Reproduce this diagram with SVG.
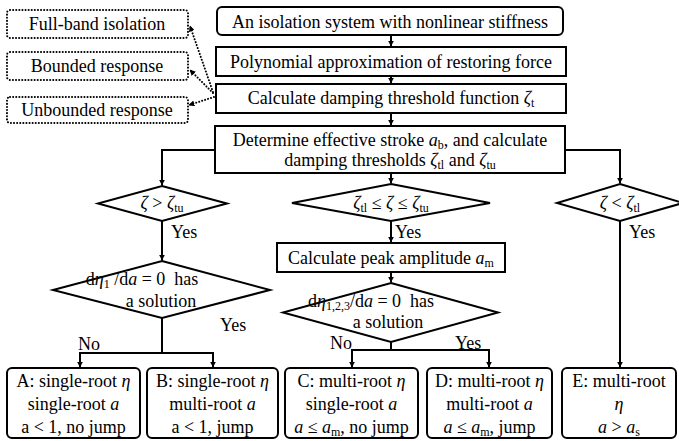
<svg xmlns="http://www.w3.org/2000/svg" width="679" height="441" viewBox="0 0 679 441">
<defs>
<marker id="ah" viewBox="0 0 10 10" refX="9" refY="5" markerWidth="6" markerHeight="6" markerUnits="userSpaceOnUse" orient="auto"><path d="M0,0 L10,5 L0,10 z" fill="#000"/></marker>
<marker id="ahd" viewBox="0 0 10 10" refX="9" refY="5" markerWidth="6" markerHeight="6" markerUnits="userSpaceOnUse" orient="auto"><path d="M0,0 L10,5 L0,10 z" fill="#000"/></marker>
</defs>
<style>
text{font-family:"Liberation Serif","Times New Roman",serif;font-size:18px;fill:#000}
.c{text-anchor:middle}
.i{font-style:italic}
.s{font-size:12px}
.box{fill:#fff;stroke:#000;stroke-width:2}
.dot{fill:#fff;stroke:#000;stroke-width:2;stroke-dasharray:0.1 3;stroke-linecap:round}
.ln{fill:none;stroke:#000;stroke-width:2}
.dl{fill:none;stroke:#000;stroke-width:2;stroke-dasharray:0.1 3;stroke-linecap:round}
</style>
<g id="connectors">
<line class="ln" x1="391" y1="35" x2="391" y2="46" marker-end="url(#ah)"/>
<line class="ln" x1="391" y1="76" x2="391" y2="83" marker-end="url(#ah)"/>
<line class="ln" x1="391" y1="113" x2="391" y2="125" marker-end="url(#ah)"/>
<polyline class="ln" points="215,150 162,150 162,185" marker-end="url(#ah)"/>
<line class="ln" x1="391" y1="173" x2="391" y2="183" marker-end="url(#ah)"/>
<polyline class="ln" points="565,150 620,150 620,183" marker-end="url(#ah)"/>
<line class="ln" x1="162" y1="221" x2="162" y2="260" marker-end="url(#ah)"/>
<line class="ln" x1="391" y1="221" x2="391" y2="242" marker-end="url(#ah)"/>
<line class="ln" x1="391" y1="272" x2="391" y2="282" marker-end="url(#ah)"/>
<line class="ln" x1="620" y1="221" x2="620" y2="367" marker-end="url(#ah)"/>
<line class="ln" x1="162" y1="318" x2="162" y2="353"/>
<line class="ln" x1="80" y1="353" x2="213" y2="353"/>
<line class="ln" x1="80" y1="352" x2="80" y2="367" marker-end="url(#ah)"/>
<line class="ln" x1="213" y1="352" x2="213" y2="367" marker-end="url(#ah)"/>
<line class="ln" x1="391" y1="342" x2="391" y2="350"/>
<line class="ln" x1="352" y1="350" x2="489" y2="350"/>
<line class="ln" x1="352" y1="349" x2="352" y2="367" marker-end="url(#ah)"/>
<line class="ln" x1="489" y1="349" x2="489" y2="367" marker-end="url(#ah)"/>
<line class="dl" x1="213" y1="92" x2="190" y2="26" marker-end="url(#ahd)"/>
<line class="dl" x1="213" y1="93" x2="190" y2="70" marker-end="url(#ahd)"/>
<line class="dl" x1="214" y1="97" x2="189" y2="105" marker-end="url(#ahd)"/>
<text x="171" y="238">Yes</text>
<text x="395" y="238">Yes</text>
<text x="629" y="238">Yes</text>
<text x="220" y="331">Yes</text>
<text x="78" y="350">No</text>
<text x="330" y="349">No</text>
<text x="455" y="349">Yes</text>
</g>
<g id="n_fullband"><rect class="dot" x="7" y="10" width="181" height="28" rx="3"/><text class="c" x="97" y="30">Full-band isolation</text></g>
<g id="n_bounded"><rect class="dot" x="7" y="52" width="181" height="28" rx="3"/><text class="c" x="97" y="72">Bounded response</text></g>
<g id="n_unbounded"><rect class="dot" x="7" y="97" width="181" height="26" rx="3"/><text class="c" x="97" y="116">Unbounded response</text></g>
<g id="n_system"><rect class="box" x="217" y="7" width="346" height="28" rx="5"/><text class="c" x="390" y="28">An isolation system with nonlinear stiffness</text></g>
<g id="n_poly"><rect class="box" x="216" y="47" width="350" height="29"/><text class="c" x="391" y="68">Polynomial approximation of restoring force</text></g>
<g id="n_calc"><rect class="box" x="216" y="84" width="350" height="29"/><text class="c" x="391" y="104">Calculate damping threshold function <tspan class="i">ζ</tspan><tspan class="s" dy="3">t</tspan></text></g>
<g id="n_determine"><rect class="box" x="215" y="126" width="350" height="47"/>
<text class="c" x="390" y="146">Determine effective stroke <tspan class="i">a</tspan><tspan class="s" dy="3">b</tspan><tspan dy="-3">, and calculate</tspan></text>
<text class="c" x="390" y="166">damping thresholds <tspan class="i">ζ</tspan><tspan class="s" dy="3">tl</tspan><tspan dy="-3"> and </tspan><tspan class="i">ζ</tspan><tspan class="s" dy="3">tu</tspan></text></g>
<g id="d_left"><polygon class="box" points="162,186 227,203.5 162,221 98,203.5"/><text class="c" x="162" y="209"><tspan class="i">ζ</tspan> &gt; <tspan class="i">ζ</tspan><tspan class="s" dy="3">tu</tspan></text></g>
<g id="d_mid"><polygon class="box" points="391,184 490,203 391,221 292,203"/><text class="c" x="391" y="209"><tspan class="i">ζ</tspan><tspan class="s" dy="3">tl</tspan><tspan dy="-3"> ≤ </tspan><tspan class="i">ζ</tspan> ≤ <tspan class="i">ζ</tspan><tspan class="s" dy="3">tu</tspan></text></g>
<g id="d_right"><polygon class="box" points="620,184 683,203 620,221 557,203"/><text class="c" x="620" y="209"><tspan class="i">ζ</tspan> &lt; <tspan class="i">ζ</tspan><tspan class="s" dy="3">tl</tspan></text></g>
<g id="n_peak"><rect class="box" x="277" y="243" width="228" height="29"/><text class="c" x="391" y="264">Calculate peak amplitude <tspan class="i">a</tspan><tspan class="s" dy="3">m</tspan></text></g>
<g id="d_left2"><polygon class="box" points="162,261 270,290 162,318 53,290"/>
<text class="c" x="142" y="285">d<tspan class="i">η</tspan><tspan class="s" dy="3">1</tspan><tspan dy="-3"> /d</tspan><tspan class="i">a</tspan> = 0&#160; has</text>
<text class="c" x="161" y="307">a solution</text></g>
<g id="d_mid2"><polygon class="box" points="391,283 498,312.5 391,342 283,312.5"/>
<text class="c" x="371" y="307">d<tspan class="i">η</tspan><tspan class="s" dy="3">1,2,3</tspan><tspan dy="-3">/d</tspan><tspan class="i">a</tspan> = 0&#160; has</text>
<text class="c" x="388" y="328">a solution</text></g>
<g id="n_A"><rect class="box" x="7" y="368" width="133" height="70" rx="5"/>
<text class="c" x="73.5" y="387">A: single-root <tspan class="i">η</tspan></text>
<text class="c" x="73.5" y="410">single-root <tspan class="i">a</tspan></text>
<text class="c" x="73.5" y="433">a &lt; 1, no jump</text></g>
<g id="n_B"><rect class="box" x="147" y="368" width="131" height="70" rx="5"/>
<text class="c" x="212.5" y="387">B: single-root <tspan class="i">η</tspan></text>
<text class="c" x="212.5" y="410">multi-root <tspan class="i">a</tspan></text>
<text class="c" x="212.5" y="433">a &lt; 1, jump</text></g>
<g id="n_C"><rect class="box" x="285" y="368" width="133" height="70" rx="5"/>
<text class="c" x="351.5" y="387">C: multi-root <tspan class="i">η</tspan></text>
<text class="c" x="351.5" y="410">single-root <tspan class="i">a</tspan></text>
<text class="c" x="351.5" y="433"><tspan class="i">a</tspan> ≤ <tspan class="i">a</tspan><tspan class="s" dy="3">m</tspan><tspan dy="-3">, no jump</tspan></text></g>
<g id="n_D"><rect class="box" x="427" y="368" width="125" height="70" rx="5"/>
<text class="c" x="489.5" y="387">D: multi-root <tspan class="i">η</tspan></text>
<text class="c" x="489.5" y="410">multi-root <tspan class="i">a</tspan></text>
<text class="c" x="489.5" y="433"><tspan class="i">a</tspan> ≤ <tspan class="i">a</tspan><tspan class="s" dy="3">m</tspan><tspan dy="-3">, jump</tspan></text></g>
<g id="n_E"><rect class="box" x="562" y="368" width="114" height="70" rx="5"/>
<text class="c" x="619" y="387">E: multi-root</text>
<text class="c i" x="619" y="410">η</text>
<text class="c" x="619" y="433"><tspan class="i">a</tspan> &gt; <tspan class="i">a</tspan><tspan class="s" dy="3">s</tspan></text></g>
</svg>
